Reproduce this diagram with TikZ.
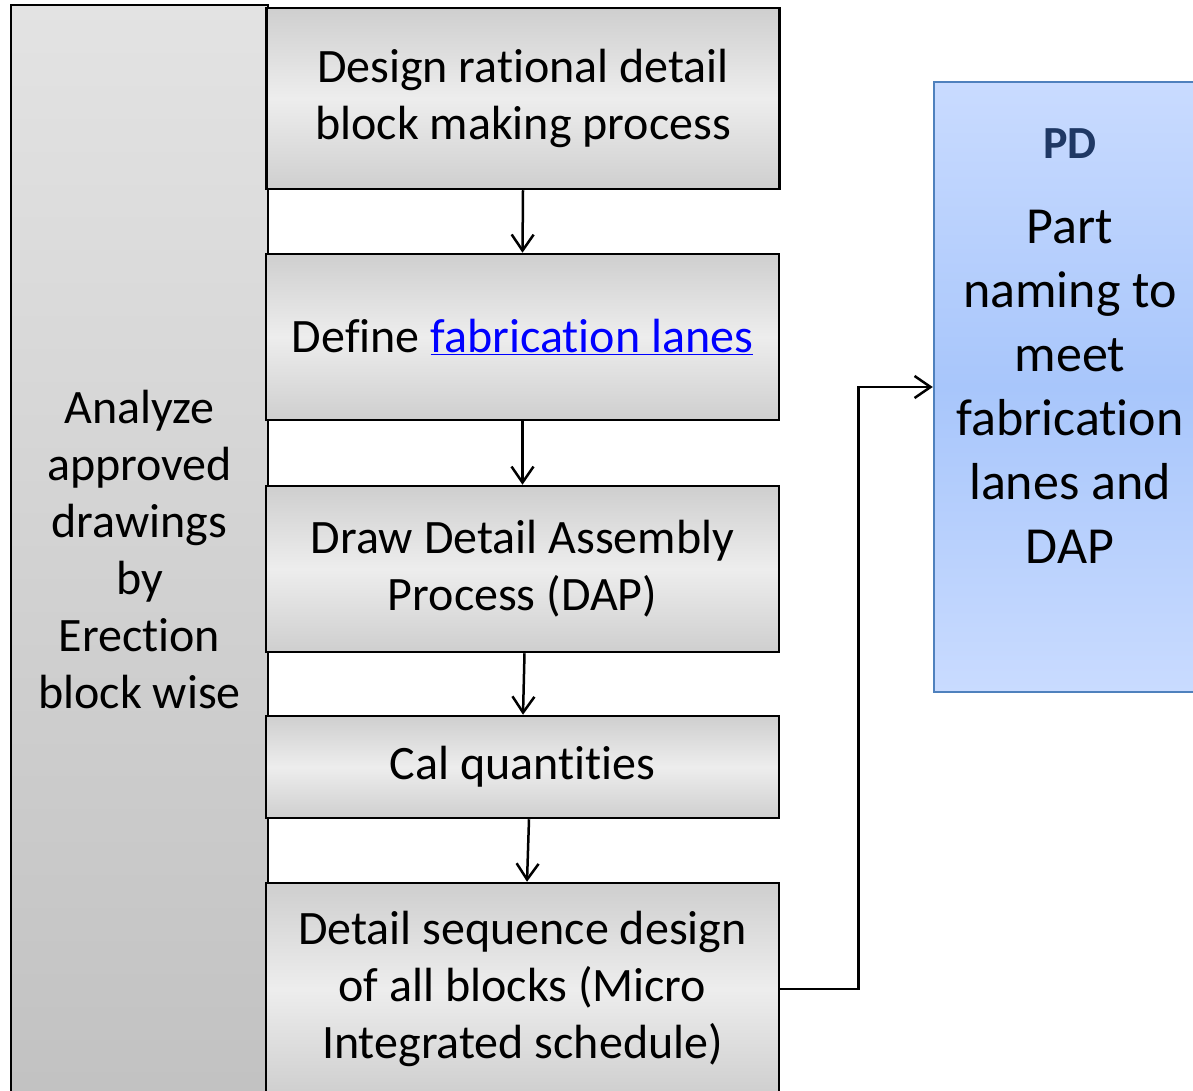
\documentclass[tikz,border=0pt]{standalone}
\usepackage{fontspec}
\setmainfont{Carlito}[Ligatures=NoCommon]
\usetikzlibrary{arrows.meta}
\definecolor{pdborder}{HTML}{4F81BD}
\definecolor{pdtop}{HTML}{C9DBFF}
\definecolor{pdmid}{HTML}{A8C6FB}
\definecolor{pdtitle}{HTML}{1F3864}
\tikzset{
  stepbox/.style={draw=black, line width=2.5pt, rectangle, minimum width=513pt,
    top color=gray!38, bottom color=gray!38, middle color=gray!14,
    align=center, font=\fontsize{48}{57}\selectfont, inner sep=0pt},
  sidebox/.style={draw=black, line width=2.5pt, rectangle, minimum width=257pt,
    top color=gray!22, bottom color=gray!48, align=center,
    font=\fontsize{48}{57}\selectfont, inner sep=0pt},
  pdbox/.style={draw=pdborder, line width=2.5pt, rectangle, minimum width=272pt,
    minimum height=610pt, top color=pdtop, bottom color=pdtop, middle color=pdmid},
  pdlabel/.style={align=center, inner sep=0pt, font=\fontsize{52}{64}\selectfont},
  flow/.style={-{Straight Barb[length=16pt,width=22pt]}, line width=2.5pt}
}
\begin{document}
\begin{tikzpicture}[x=1pt,y=-1pt]
\useasboundingbox (0,0) rectangle (1193,1091);
\clip (0,0) rectangle (1193,1091);
\fill[white] (0,0) rectangle (1193,1091);
\node[sidebox, minimum height=1090pt] (side) at (139.5,550) {Analyze\\approved\\drawings\\by\\Erection\\block wise};
\node[stepbox, minimum height=181pt] (b1) at (523,98.5) {Design rational detail\\block making process};
\node[stepbox, minimum height=166pt] (b2) at (522.5,337) {Define {\color{blue}\underline{fabrication lanes}}};
\node[stepbox, minimum height=166pt] (b3) at (522.5,569) {Draw Detail Assembly\\Process (DAP)};
\node[stepbox, minimum height=102pt] (b4) at (522.5,767) {Cal quantities};
\node[stepbox, minimum height=212pt] (b5) at (522.5,989) {Detail sequence design\\of all blocks (Micro\\Integrated schedule)};
\node[pdbox] (pd) at (1070,387) {};
\node[pdlabel] (pdtext) at (1070,346)
  {{\color{pdtitle}\fontsize{46}{46}\selectfont\bfseries PD}\\[21pt]
   Part\\naming to\\meet\\fabrication\\lanes and\\DAP};
\draw[flow] (b1.south) -- (b2.north);
\draw[flow] (b2.south) -- (b3.north);
\draw[flow] ([xshift=2pt]b3.south) -- ([xshift=0.5pt]b4.north);
\draw[flow] ([xshift=6.5pt]b4.south) -- ([xshift=4.5pt]b5.north);
\draw[flow] (b5.east) -- ++(78,0) |- (pd.west);
\end{tikzpicture}
\end{document}
